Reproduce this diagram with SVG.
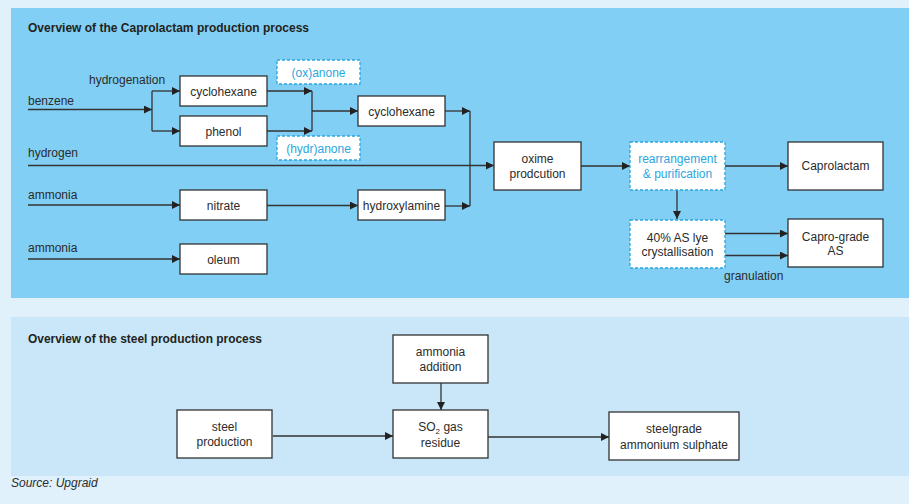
<svg xmlns="http://www.w3.org/2000/svg" width="909" height="504" viewBox="0 0 909 504">
<defs>
<style>
.t{font-family:"Liberation Sans",Arial,sans-serif;font-size:12px;fill:#2b2b2b}
.c{text-anchor:middle}
.b{fill:#2BA6DE}
.h{font-family:"Liberation Sans",Arial,sans-serif;font-size:12px;font-weight:bold;fill:#231f20}
.box{fill:#fff;stroke:#333;stroke-width:1.3}
.dbox{fill:#fff;stroke:#2BA6DE;stroke-width:1.3;stroke-dasharray:3 2}
.ln{fill:none;stroke:#333;stroke-width:1.3}
.ar{marker-end:url(#ah)}
</style>
<marker id="ah" markerUnits="userSpaceOnUse" markerWidth="8" markerHeight="8" refX="8" refY="4" orient="auto">
<path d="M0,0 L8,4 L0,8 z" fill="#222"/>
</marker>
</defs>
<rect x="0" y="0" width="909" height="504" fill="#E0F1FC"/>
<rect x="11" y="8" width="898" height="290" fill="#81CFF4"/>
<rect x="11" y="317" width="898" height="159" fill="#C9E7F8"/>
<text class="h" x="28" y="31.5" textLength="281" lengthAdjust="spacingAndGlyphs">Overview of the Caprolactam production process</text>
<text class="h" x="28" y="343" textLength="234" lengthAdjust="spacingAndGlyphs">Overview of the steel production process</text>
<text class="t" x="11" y="487" font-style="italic">Source: Upgraid</text>

<g id="labels">
<text class="t" x="28" y="105">benzene</text>
<text class="t" x="89" y="83.5">hydrogenation</text>
<text class="t" x="28" y="157">hydrogen</text>
<text class="t" x="28" y="198.5">ammonia</text>
<text class="t" x="28" y="252">ammonia</text>
<text class="t" x="724" y="280">granulation</text>
</g>

<g id="connectors">
<polyline class="ln ar" points="28,109.5 152,109.5"/>
<polyline class="ln" points="152,91 152,131"/>
<polyline class="ln ar" points="152,91 180,91"/>
<polyline class="ln ar" points="152,131 180,131"/>
<polyline class="ln ar" points="267,91 312,91"/>
<polyline class="ln ar" points="267,131 312,131"/>
<polyline class="ln" points="312,91 312,131"/>
<polyline class="ln ar" points="312,111 358,111"/>
<polyline class="ln ar" points="445,111 470,111"/>
<polyline class="ln" points="470,111 470,206"/>
<polyline class="ln ar" points="445,206 470,206"/>
<polyline class="ln ar" points="28,165.5 494,165.5"/>
<polyline class="ln ar" points="28,205 180,205"/>
<polyline class="ln ar" points="267,205.5 358,205.5"/>
<polyline class="ln ar" points="28,259 180,259"/>
<polyline class="ln ar" points="581,166 630,166"/>
<polyline class="ln ar" points="725,166 788,166"/>
<polyline class="ln ar" points="677,190 677,219"/>
<polyline class="ln ar" points="725,233.5 788,233.5"/>
<polyline class="ln ar" points="725,255.5 788,255.5"/>
<polyline class="ln ar" points="441,383 441,410"/>
<polyline class="ln ar" points="273,436 393,436"/>
<polyline class="ln ar" points="488,437 609,437"/>
</g>

<g id="cyclohexane1"><rect class="box" x="180" y="76" width="87" height="30"/><text class="t c" x="223.5" y="95.5">cyclohexane</text></g>
<g id="phenol"><rect class="box" x="180" y="116" width="87" height="30"/><text class="t c" x="223.5" y="135.5">phenol</text></g>
<g id="oxanone"><rect class="dbox" x="277" y="60" width="83" height="24"/><text class="t c b" x="318.5" y="76.5">(ox)anone</text></g>
<g id="hydranone"><rect class="dbox" x="277" y="136" width="83" height="24"/><text class="t c b" x="318.5" y="152.5">(hydr)anone</text></g>
<g id="cyclohexane2"><rect class="box" x="358" y="96" width="87" height="30"/><text class="t c" x="401.5" y="115.5">cyclohexane</text></g>
<g id="nitrate"><rect class="box" x="180" y="190" width="87" height="30"/><text class="t c" x="223.5" y="209.5">nitrate</text></g>
<g id="hydroxylamine"><rect class="box" x="358" y="190" width="87" height="30"/><text class="t c" x="401.5" y="209.5">hydroxylamine</text></g>
<g id="oleum"><rect class="box" x="180" y="244" width="87" height="30"/><text class="t c" x="223.5" y="263.5">oleum</text></g>
<g id="oxime"><rect class="box" x="494" y="142" width="87" height="48"/><text class="t c" x="537.5" y="163">oxime</text><text class="t c" x="537.5" y="178">prodcution</text></g>
<g id="rearrangement"><rect class="dbox" x="630" y="142" width="95" height="48"/><text class="t c b" x="677.5" y="163">rearrangement</text><text class="t c b" x="677.5" y="178">&amp; purification</text></g>
<g id="caprolactam"><rect class="box" x="788" y="142" width="95" height="48"/><text class="t c" x="835.5" y="169.5">Caprolactam</text></g>
<g id="crystallisation"><rect class="dbox" x="630" y="220" width="95" height="48"/><text class="t c" x="677.5" y="241.5">40% AS lye</text><text class="t c" x="677.5" y="256">crystallisation</text></g>
<g id="caprograde"><rect class="box" x="788" y="219" width="95" height="48"/><text class="t c" x="835.5" y="240.5">Capro-grade</text><text class="t c" x="835.5" y="255">AS</text></g>

<g id="steel"><rect class="box" x="177" y="410" width="95" height="48"/><text class="t c" x="224.5" y="431">steel</text><text class="t c" x="224.5" y="446">production</text></g>
<g id="ammoniaaddition"><rect class="box" x="393" y="335" width="95" height="48"/><text class="t c" x="440.5" y="356">ammonia</text><text class="t c" x="440.5" y="371">addition</text></g>
<g id="so2"><rect class="box" x="393" y="410" width="95" height="48"/><text class="t c" x="440.5" y="431">SO<tspan font-size="8" dy="3">2</tspan><tspan dy="-3"> gas</tspan></text><text class="t c" x="440.5" y="446.5">residue</text></g>
<g id="steelgrade"><rect class="box" x="609" y="412" width="130" height="48"/><text class="t c" x="674" y="433">steelgrade</text><text class="t c" x="674" y="449">ammonium sulphate</text></g>
</svg>
